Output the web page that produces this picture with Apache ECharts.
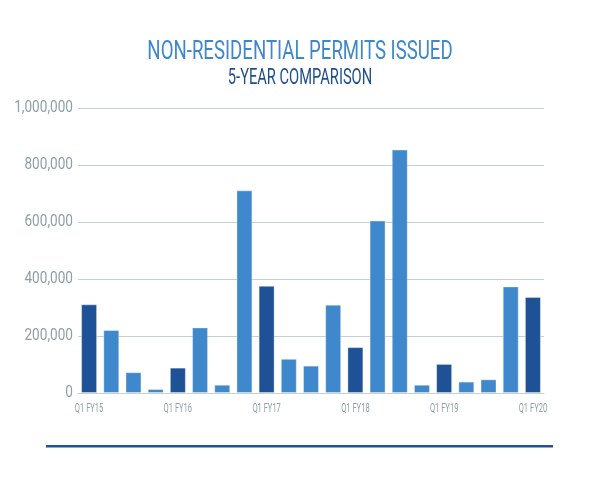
<!DOCTYPE html>
<html><head><meta charset="utf-8">
<script src="https://cdn.jsdelivr.net/npm/echarts@6/dist/echarts.min.js"></script>
<style>html,body{margin:0;padding:0;background:#fff}#c{width:600px;height:490px}</style>
</head><body><div id="c"></div>
<script>
const categories = ['Q1 FY15','Q2 FY15','Q3 FY15','Q4 FY15','Q1 FY16','Q2 FY16','Q3 FY16','Q4 FY16','Q1 FY17','Q2 FY17','Q3 FY17','Q4 FY17','Q1 FY18','Q2 FY18','Q3 FY18','Q4 FY18','Q1 FY19','Q2 FY19','Q3 FY19','Q4 FY19','Q1 FY20'];
const values = [311000,221000,73000,14000,89000,230000,29000,711000,376000,120000,96000,310000,161000,605000,854000,29000,102000,40000,48000,374000,337000];
const yTicks = [0,200000,400000,600000,800000,1000000];
const titleText = 'NON-RESIDENTIAL PERMITS ISSUED';
const subtitleText = '5-YEAR COMPARISON';
const DARK = '#1f5196', LIGHT = '#4088cc';
const LABEL = '#8e9fa6';
const FONT = 'Roboto, sans-serif';
const chart = echarts.init(document.getElementById('c'));
chart.setOption({
  animation:false,
  grid:{left:78,right:56,top:108,bottom:97},
  xAxis:{type:'category',data:categories,axisTick:{show:false},
    axisLine:{lineStyle:{color:'#c5d0d4'}},
    axisLabel:{show:false}},
  yAxis:{type:'value',min:yTicks[0],max:yTicks[yTicks.length-1],interval:200000,
    axisLine:{show:false},axisTick:{show:false},
    splitLine:{lineStyle:{color:'#c5d0d4',width:1}},
    axisLabel:{show:false}},
  series:[{type:'bar',barWidth:'72%',
    data:values.map((v,i)=>({value:v,itemStyle:{color:(i%4===0)?DARK:LIGHT}})),
    itemStyle:{borderColor:'rgba(255,255,255,0.35)',borderWidth:1}
  }]
});
const g = [];
g.push({type:'text',x:300,y:53,scaleX:0.745,style:{text:titleText,x:0,y:0,align:'center',verticalAlign:'middle',font:'400 25px '+FONT,fill:'#3f87cb'}});
g.push({type:'text',x:300,y:78,scaleX:0.667,style:{text:subtitleText,x:0,y:0,align:'center',verticalAlign:'middle',font:'400 22px '+FONT,fill:'#1f4e8f'}});
yTicks.forEach(v=>{
  const p = chart.convertToPixel({gridIndex:0},[0,v]);
  g.push({type:'text',x:73,y:p[1],scaleX:0.8,style:{text:v.toLocaleString('en-US'),x:0,y:0,align:'right',verticalAlign:'middle',font:'400 17px '+FONT,fill:LABEL}});
});
categories.forEach((c,i)=>{
  if(i%4!==0) return;
  const p = chart.convertToPixel({gridIndex:0},[i,0]);
  g.push({type:'text',x:p[0],y:p[1]+16,scaleX:0.58,style:{text:c,x:0,y:0,align:'center',verticalAlign:'middle',font:'400 13px '+FONT,fill:LABEL}});
});
g.push({type:'rect',shape:{x:46,y:445,width:507,height:2.5},style:{fill:'#1f5196'}});
chart.setOption({graphic:g});
</script></body></html>
